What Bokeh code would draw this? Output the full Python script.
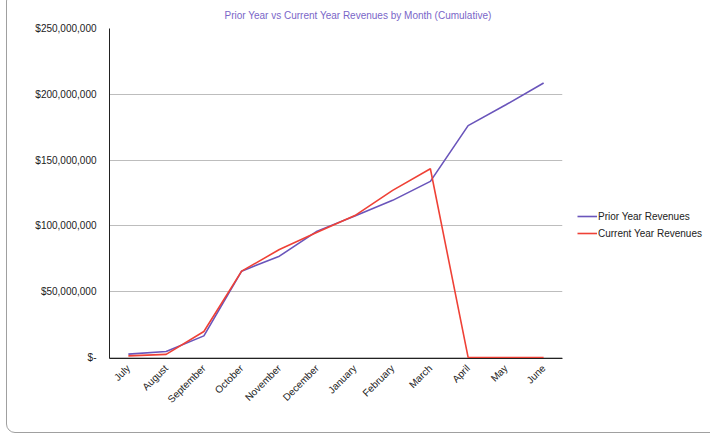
from bokeh.plotting import figure
from bokeh.models import (FixedTicker, Legend, LegendItem, Range1d,
                          InlineStyleSheet)
from bokeh.embed import file_html
from bokeh.resources import INLINE

months = ["July", "August", "September", "October", "November", "December",
          "January", "February", "March", "April", "May", "June"]
prior_year = [2.5e6, 4.5e6, 16.4e6, 65.6e6, 77.0e6, 96.0e6,
              107.5e6, 119.4e6, 133.8e6, 176.2e6, 192.0e6, 208.6e6]
current_year = [1.2e6, 2.3e6, 19.7e6, 65.6e6, 82.0e6, 95.2e6,
                107.8e6, 127.0e6, 143.4e6, 0.0, 0.0, 0.0]
y_ticks = [0, 50e6, 100e6, 150e6, 200e6, 250e6]
y_tick_labels = ["$-", "$50,000,000", "$100,000,000", "$150,000,000",
                 "$200,000,000", "$250,000,000"]
title_text = "Prior Year vs Current Year Revenues by Month (Cumulative)"

FONT = "Liberation Sans"
PURPLE = "#6a55bb"
RED = "#ef4136"

# rounded frame around the whole chart card
card = InlineStyleSheet(css="""
:host { overflow: hidden; }
:host::after {
  content: ""; position: absolute; left: 6px; top: -8px;
  width: 720px; height: 441px; border: 1px solid #a0a0a0;
  border-radius: 9px; pointer-events: none; box-sizing: border-box;
}
""")

p = figure(frame_width=453, frame_height=330, x_range=months,
           y_range=Range1d(-0.8e6, 250e6),
           output_backend="svg", toolbar_location=None,
           min_border_left=109, min_border_right=148,
           min_border_top=28, min_border_bottom=76,
           stylesheets=[card])
p.outline_line_color = None
p.background_fill_color = "white"
p.border_fill_color = "white"

# title is centred over the whole card, not just the plot frame
p.title.text = title_text
p.title.align = "left"
p.title.offset = 115
p.title.text_font = FONT
p.title.text_font_size = "10px"
p.title.text_font_style = "normal"
p.title.text_color = "#7a66c8"
p.title.vertical_align = "top"
p.title.text_line_height = 1.6
p.title.standoff = 12

p.xgrid.grid_line_color = None
p.ygrid.grid_line_color = "#bdbdbd"
p.ygrid.grid_line_width = 1

p.yaxis.ticker = FixedTicker(ticks=y_ticks)
p.yaxis.major_label_overrides = {t: s for t, s in zip(y_ticks, y_tick_labels)}
p.yaxis.major_tick_line_color = None
p.yaxis.minor_tick_line_color = None
p.yaxis.axis_line_color = "#222222"
p.yaxis.major_label_standoff = 7
p.yaxis.major_label_text_font = FONT
p.yaxis.major_label_text_font_size = "10px"
p.yaxis.major_label_text_color = "#222222"

p.xaxis.major_tick_line_color = None
p.xaxis.minor_tick_line_color = None
p.xaxis.axis_line_color = "#222222"
p.xaxis.major_label_orientation = 0.785398
p.xaxis.major_label_standoff = 2
p.xaxis.major_label_text_font = FONT
p.xaxis.major_label_text_font_size = "10px"
p.xaxis.major_label_text_color = "#222222"

r_prior = p.line(months, prior_year, line_color=PURPLE, line_width=1.6)
r_current = p.line(months, current_year, line_color=RED, line_width=1.6)

legend = Legend(items=[LegendItem(label="Prior Year Revenues", renderers=[r_prior]),
                       LegendItem(label="Current Year Revenues", renderers=[r_current])],
                location=(15, 119), orientation="vertical",
                glyph_width=20, glyph_height=12, label_standoff=1, spacing=5,
                padding=0, margin=0, border_line_color=None,
                background_fill_alpha=0, label_text_font=FONT,
                label_text_font_size="10px", label_text_color="#222222",
                label_height=12)
p.add_layout(legend, "right")

open("out.html", "w").write(file_html(p, INLINE))
